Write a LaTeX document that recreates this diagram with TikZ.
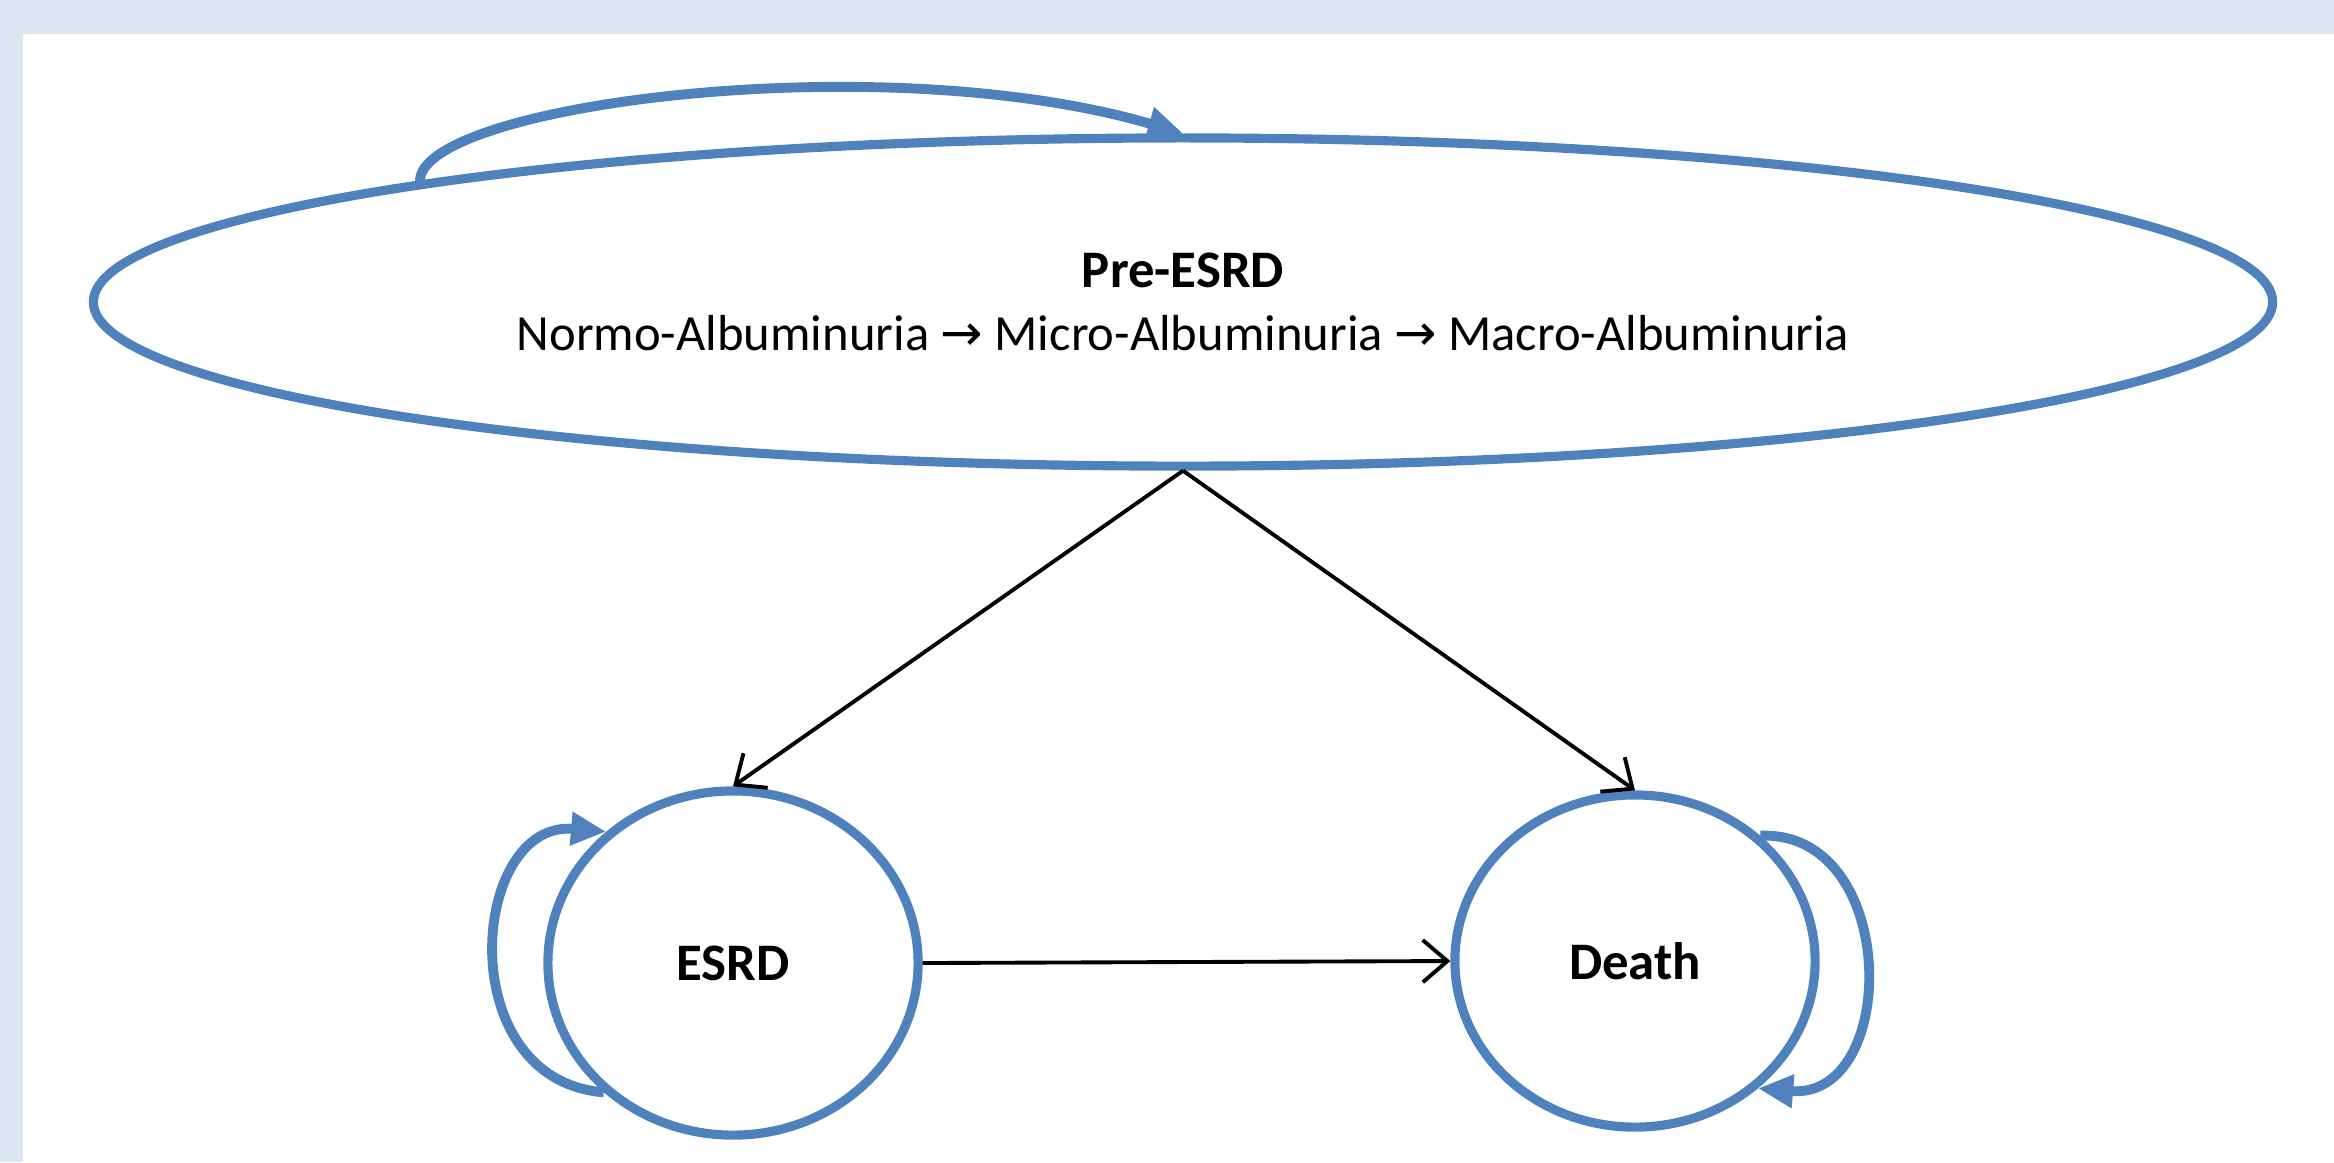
\documentclass[tikz,border=0pt]{standalone}
\usepackage{fontspec}
\setmainfont{Carlito}
\newfontfamily\arrowfont{DejaVu Sans}
\usetikzlibrary{shapes.geometric,arrows.meta}
\definecolor{bgblue}{RGB}{220,230,241}
\definecolor{stateblue}{RGB}{79,129,189}
\begin{document}
\begin{tikzpicture}[x=0.01cm,y=-0.01cm,
  state/.style={ellipse,draw=stateblue,line width=2.6pt,fill=white,inner sep=0pt,
    font=\fontsize{15}{18}\selectfont\bfseries},
  looparrow/.style={draw=stateblue,line width=2.8pt,-{Triangle[length=10pt,width=9pt]}},
  flow/.style={draw=black,line width=1.1pt,-{Straight Barb[length=7pt,width=12pt]}}]
\fill[bgblue] (0,0) rectangle (2334,1162);
\fill[white] (23,34) rectangle (2334,1162);
\node[state,minimum width=21.78cm,minimum height=3.28cm,align=center] (pre) at (1183,302)
  {Pre-ESRD\\{\mdseries\fontsize{14.4}{18}\selectfont Normo-Albuminuria {\arrowfont →} Micro-Albuminuria {\arrowfont →} Macro-Albuminuria}};
\node[state,minimum width=3.7cm,minimum height=3.44cm] (esrd) at (733,963) {ESRD};
\node[state,minimum width=3.6cm,minimum height=3.32cm] (death) at (1635,961) {Death};
\draw[looparrow] (pre.171.7) .. controls (420,105) and (880,45) .. (pre.north);
\draw[looparrow] (esrd.225) .. controls (450,1080) and (470,820) .. (esrd.134);
\draw[looparrow] (death.45.5) .. controls (1900,830) and (1900,1100) .. (death.314);
\draw[flow] (pre.south) -- (esrd.north);
\draw[flow] (pre.south) -- (death.north);
\draw[flow] (esrd.east) -- (death.west);
\end{tikzpicture}
\end{document}
